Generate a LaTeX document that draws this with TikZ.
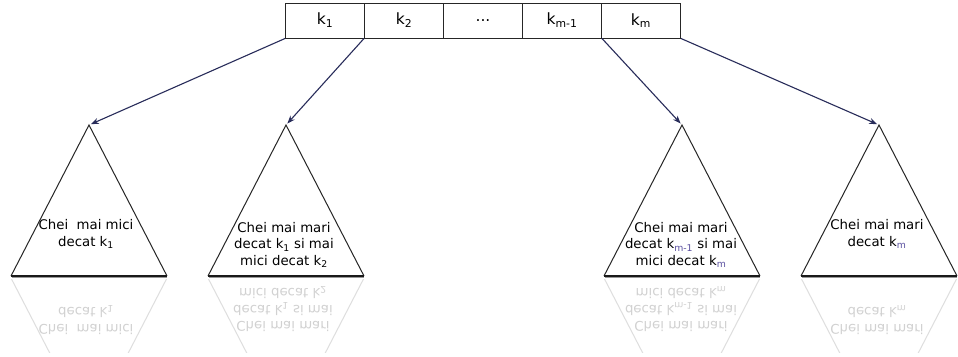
\documentclass[tikz,border=0pt]{standalone}
\usepackage{fontspec}
\setmainfont{DejaVu Sans}
\usetikzlibrary{arrows.meta}
\definecolor{navy}{RGB}{40,44,90}
\definecolor{subc}{RGB}{90,80,160}
\begin{document}
\begin{tikzpicture}[x=1pt,y=-1pt,
  cell/.style={draw=black!85,line width=1pt,minimum width=79pt,minimum height=35pt,inner sep=0pt,
    font=\fontsize{15.5}{17}\selectfont},
  arr/.style={draw=navy,line width=1.1pt,-{Stealth[length=8pt,width=6pt]},shorten >=2pt},
  tri/.style={draw=black!85,line width=1pt,line join=miter},
  txt/.style={align=center,inner sep=0pt,font=\fontsize{13.3}{16.8}\selectfont},
  rtri/.style={draw=black!13,line width=1pt},
  rtxt/.style={align=center,inner sep=0pt,text=black!18,font=\fontsize{13.3}{16.8}\selectfont,yscale=-1}]
\useasboundingbox (0,0) rectangle (958,356);
\fill[white] (0,0) rectangle (958,356);
% key cells
\node[cell] (c1) at (325,20.5) {k\textsubscript{1}};
\node[cell] (c2) at (404,20.5) {k\textsubscript{2}};
\node[cell] (c3) at (483,20.5) {...};
\node[cell] (c4) at (562,20.5) {k\textsubscript{m-1}};
\node[cell] (c5) at (641,20.5) {k\textsubscript{m}};
% apexes
\coordinate (a1) at (89,125);
\coordinate (a2) at (286,125);
\coordinate (a3) at (682,125);
\coordinate (a4) at (879,125);
% reflection
\begin{scope}
\clip (0,279) rectangle (958,352);
\foreach \x in {89,286,682,879}{
  \draw[rtri] (\x-78,278) -- (\x,429) -- (\x+78,278);
}
\node[rtxt] at (86,320) {Chei\ \ mai mici\\decat k\textsubscript{1}};
\node[rtxt] at (283,309) {Chei mai mari\\decat k\textsubscript{1} si mai\\mici decat k\textsubscript{2}};
\node[rtxt] at (681,309) {Chei mai mari\\decat k\textsubscript{m-1} si mai\\mici decat k\textsubscript{m}};
\node[rtxt] at (877,320) {Chei mai mari\\decat k\textsubscript{m}};
\end{scope}
% triangles
\foreach \x [count=\i] in {89,286,682,879}{
  \draw[tri] (\x-78,276) -- (\x,125) -- (\x+78,276);
  \draw[black!40,line width=1.2pt] (\x-77,277.8) -- (\x+78,277.8);
  \draw[black!90,line width=1.3pt] (\x-78,276) -- (\x+78,276);
}
% texts
\node[txt] (t1) at (86,234) {Chei\ \ mai mici\\decat k\textsubscript{1}};
\node[txt] (t2) at (284,245) {Chei mai mari\\decat k\textsubscript{1} si mai\\mici decat k\textsubscript{2}};
\node[txt] (t3) at (681,245) {Chei mai mari\\decat k{\color{subc}\textsubscript{m-1}} si mai\\mici decat k{\color{subc}\textsubscript{m}}};
\node[txt] (t4) at (877,234) {Chei mai mari\\decat k{\color{subc}\textsubscript{m}}};
% connectors
\draw[arr] (c1.south west) -- (a1);
\draw[arr] (c2.south west) -- (a2);
\draw[arr] (c4.south east) -- (a3);
\draw[arr] (c5.south east) -- (a4);
\end{tikzpicture}
\end{document}
